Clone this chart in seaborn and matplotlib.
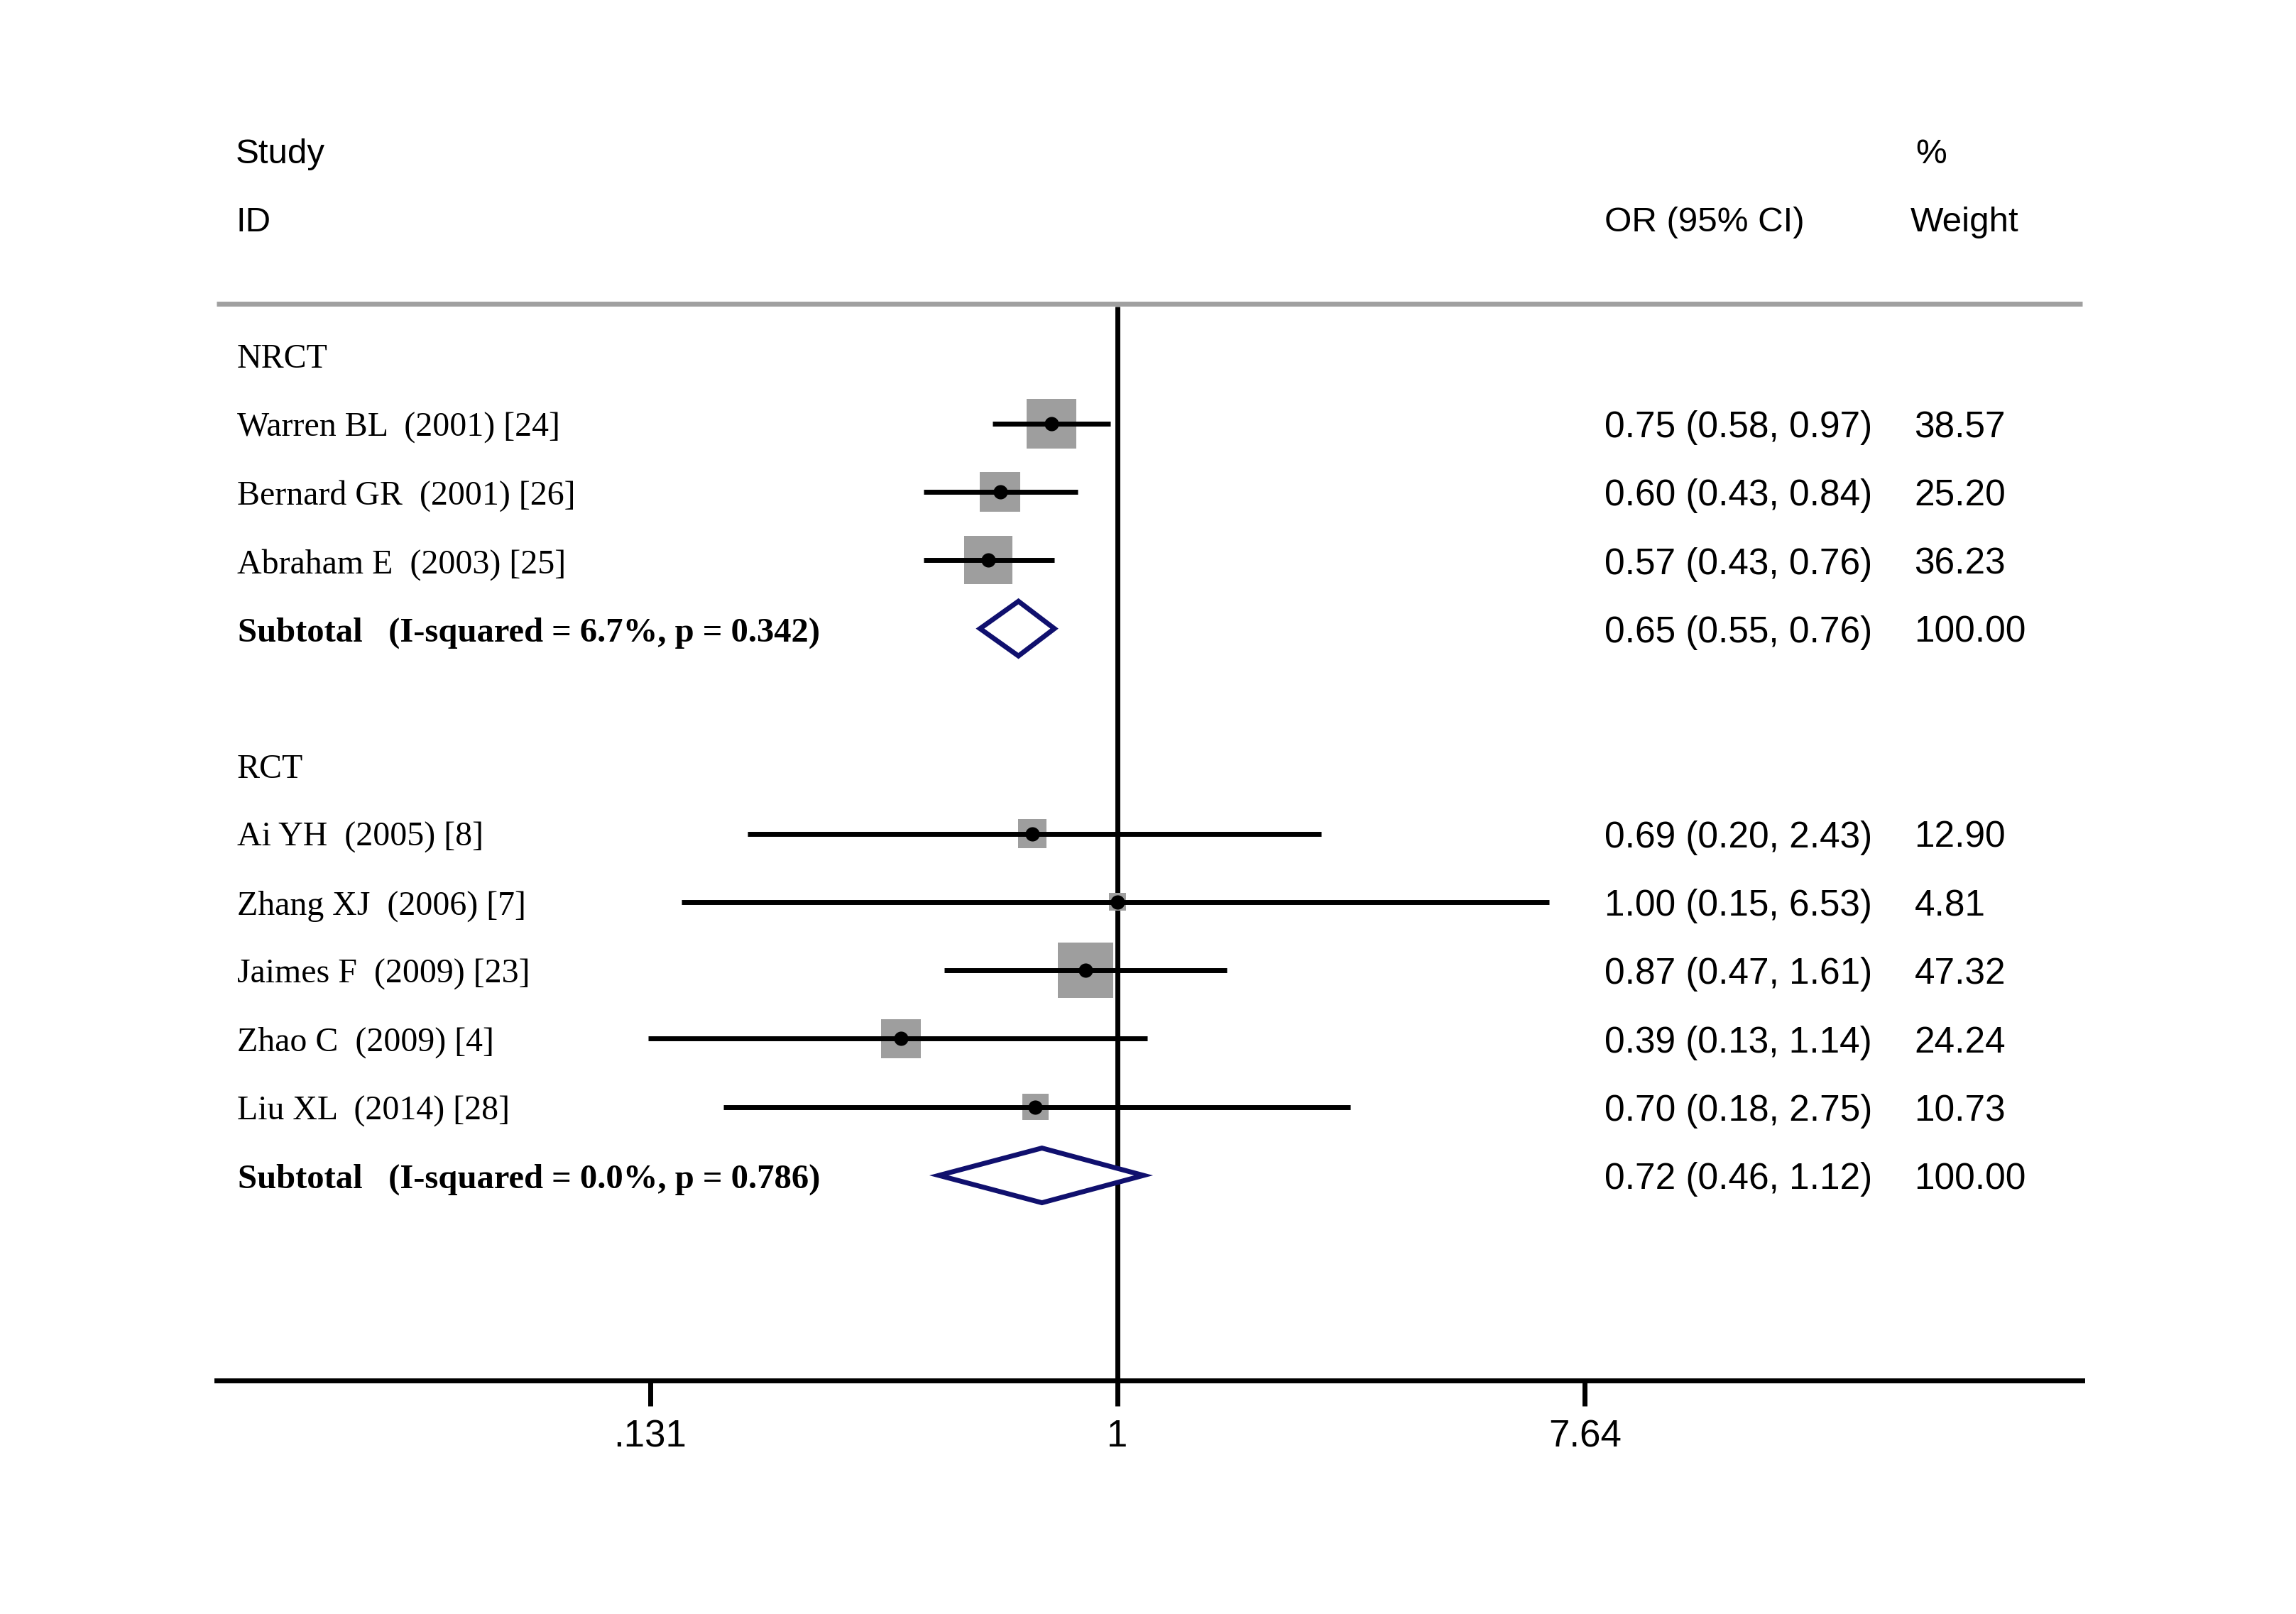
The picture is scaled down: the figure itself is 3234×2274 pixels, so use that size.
import numpy as np
import pandas as pd
import seaborn as sns
import matplotlib.pyplot as plt
from matplotlib.transforms import blended_transform_factory

# data
group_names = ["NRCT", "RCT"]

nrct_labels = ["Warren BL  (2001) [24]", "Bernard GR  (2001) [26]", "Abraham E  (2003) [25]"]
nrct_or = [0.75, 0.60, 0.57]
nrct_lo = [0.58, 0.43, 0.43]
nrct_hi = [0.97, 0.84, 0.76]
nrct_weight = [38.57, 25.20, 36.23]

rct_labels = ["Ai YH  (2005) [8]", "Zhang XJ  (2006) [7]", "Jaimes F  (2009) [23]",
              "Zhao C  (2009) [4]", "Liu XL  (2014) [28]"]
rct_or = [0.69, 1.00, 0.87, 0.39, 0.70]
rct_lo = [0.20, 0.15, 0.47, 0.13, 0.18]
rct_hi = [2.43, 6.53, 1.61, 1.14, 2.75]
rct_weight = [12.90, 4.81, 47.32, 24.24, 10.73]

sub_labels = ["Subtotal   (I-squared = 6.7%, p = 0.342)",
              "Subtotal   (I-squared = 0.0%, p = 0.786)"]
sub_or = [0.65, 0.72]
sub_lo = [0.55, 0.46]
sub_hi = [0.76, 1.12]
sub_weight = [100.00, 100.00]

tick_vals = [0.131, 1, 7.64]
tick_labels = [".131", "1", "7.64"]

# layout: one row per line of the table
group_rows = [0, 6]
nrct_rows = [1, 2, 3]
rct_rows = [7, 8, 9, 10, 11]
sub_rows = [4, 12]

studies = pd.DataFrame({
    "label": nrct_labels + rct_labels,
    "or": nrct_or + rct_or,
    "lo": nrct_lo + rct_lo,
    "hi": nrct_hi + rct_hi,
    "weight": nrct_weight + rct_weight,
    "row": nrct_rows + rct_rows,
})
subs = pd.DataFrame({"label": sub_labels, "or": sub_or, "lo": sub_lo,
                     "hi": sub_hi, "weight": sub_weight, "row": sub_rows})

sns.set_style("ticks")
plt.rcParams['font.family'] = ['Liberation Sans', 'DejaVu Sans']
plt.rcParams['text.color'] = 'black'
plt.rcParams['xtick.color'] = 'black'
plt.rcParams['xtick.labelcolor'] = 'black'
serif = ['Liberation Serif', 'DejaVu Serif']

fig = plt.figure(figsize=(32.34, 22.74), dpi=100)
ax = fig.add_axes([305 / 3234, 0.1447, 2628 / 3234, 0.8008])

gray = '#9e9e9e'
navy = '#10106e'

# null line
ax.vlines(1, -0.71, 15.0, color='black', lw=5, zorder=1)

# weight squares (area proportional to weight)
sns.scatterplot(data=studies, x="or", y="row", size="weight", sizes=(0, 6590),
                size_norm=(0, 100), marker='s', color=gray, linewidth=0,
                legend=False, ax=ax, zorder=2)
ax.hlines(studies["row"], studies["lo"], studies["hi"], color='black', lw=5, zorder=3)
sns.scatterplot(data=studies, x="or", y="row", s=210, color='black', linewidth=0,
                legend=False, ax=ax, zorder=4)

# pooled diamonds
for _, r in subs.iterrows():
    ax.fill([r["lo"], r["or"], r["hi"], r["or"]],
            [r["row"], r["row"] - 0.4, r["row"], r["row"] + 0.4],
            facecolor='white', edgecolor=navy, lw=5, zorder=3)

ax.set_xscale('log')
ax.set_xlim(np.exp(-3.919), np.exp(4.197))
ax.set_ylim(15.0, -3.91)
ax.set_xticks(tick_vals)
ax.set_xticklabels(tick_labels)
ax.minorticks_off()
ax.tick_params(axis='x', which='major', direction='out', length=26, width=5,
               labelsize=38, pad=13, color='black', bottom=True)
ax.set_yticks([])
ax.set_xlabel('')
ax.set_ylabel('')
for side in ['left', 'right', 'top']:
    ax.spines[side].set_visible(False)
ax.spines['bottom'].set_linewidth(5)
ax.spines['bottom'].set_color('black')

trans = blended_transform_factory(ax.transAxes, ax.transData)
dy = 0.06  # text sits a hair below the mark centre

# header
ax.plot([0, 1], [-0.75, -0.75], transform=trans, color='#a0a0a0', lw=5,
        clip_on=False, solid_capstyle='butt')
ax.text(0.0103, -3 + dy, "Study", transform=trans, fontsize=35.5, va='center')
ax.text(0.0103, -2 + dy, "ID", transform=trans, fontsize=35.5, va='center')
ax.text(0.744, -2 + dy, "OR (95% CI)", transform=trans, fontsize=35.5, va='center')
ax.text(0.9106, -3 + dy, "%", transform=trans, fontsize=35.5, va='center')
ax.text(0.908, -2 + dy, "Weight", transform=trans, fontsize=35.5, va='center')

for name, row in zip(group_names, group_rows):
    ax.text(0.011, row + dy, name, transform=trans, fontsize=34.5, va='center',
            family=serif)

for _, r in studies.iterrows():
    ax.text(0.011, r["row"] + dy, r["label"], transform=trans, fontsize=34.5,
            va='center', family=serif)
    ax.text(0.744, r["row"] + dy, f"{r['or']:.2f} ({r['lo']:.2f}, {r['hi']:.2f})",
            transform=trans, fontsize=37, va='center')
    ax.text(0.910, r["row"] + dy, f"{r['weight']:.2f}", transform=trans,
            fontsize=37, va='center')

for _, r in subs.iterrows():
    ax.text(0.0115, r["row"] + dy, r["label"], transform=trans, fontsize=35,
            va='center', family=serif, fontweight='bold')
    ax.text(0.744, r["row"] + dy, f"{r['or']:.2f} ({r['lo']:.2f}, {r['hi']:.2f})",
            transform=trans, fontsize=37, va='center')
    ax.text(0.910, r["row"] + dy, f"{r['weight']:.2f}", transform=trans,
            fontsize=37, va='center')

fig.savefig("out.png", dpi=100, facecolor='white')
